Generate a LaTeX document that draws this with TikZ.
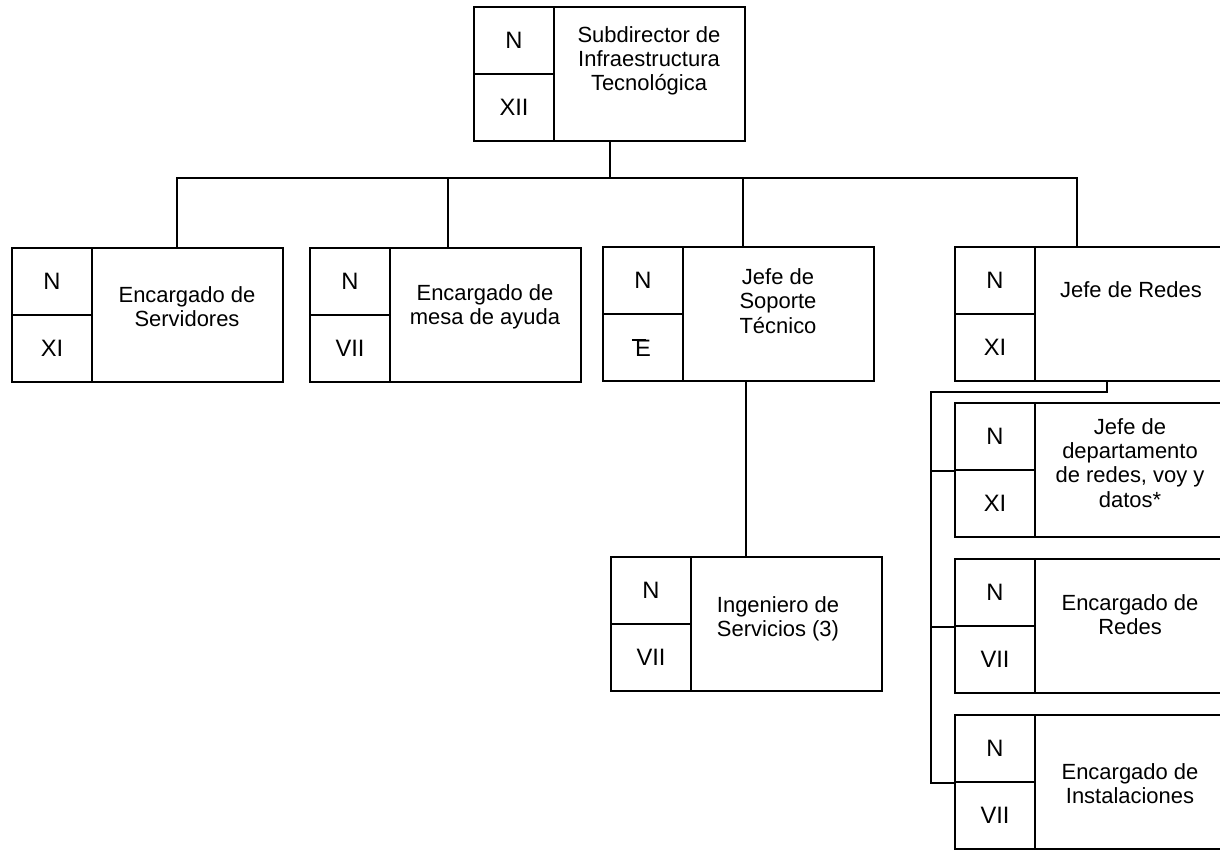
\documentclass[tikz,border=0pt]{standalone}
\usepackage{fontspec}
\setmainfont{Liberation Sans}
\begin{document}
\begin{tikzpicture}[x=0.02cm, y=-0.02cm, line width=0.9pt,
            nivel/.style={draw, rectangle, minimum width=1.6cm, minimum height=1.34cm, inner sep=0pt, font=\fontsize{13.5}{14}\selectfont},
            cargo/.style={draw, rectangle, minimum width=3.82cm, minimum height=2.68cm, inner sep=0pt},
            texto/.style={align=center, inner sep=0pt, font=\fontsize{12.5}{13.8}\selectfont}]

            \useasboundingbox (0,0) rectangle (1220,850);
            \clip (0,0) rectangle (1220,850);
            \fill[white] (0,0) rectangle (1220,850);

            % Subdirector
            \node[nivel] (sub-n) at (514,40.5) {N};
            \node[nivel] (sub-l) at (514,107.5) {XII};
            \node[cargo] (sub-t) at (649.5,74) {};
            \node[texto] (sub-x) at (649,61) {Subdirector de\\Infraestructura\\Tecnológica};

            % segundo nivel
            \node[nivel] (serv-n) at (52,281.5) {N};
            \node[nivel] (serv-l) at (52,348.5) {XI};
            \node[cargo] (serv-t) at (187.5,315) {};
            \node[texto] (serv-x) at (187,307) {Encargado de\\Servidores};

            \node[nivel] (mesa-n) at (350,281.5) {N};
            \node[nivel] (mesa-l) at (350,348.5) {VII};
            \node[cargo] (mesa-t) at (485.5,315) {};
            \node[texto] (mesa-x) at (485,307) {Encargado de\\mesa de ayuda};

            \node[nivel] (sop-n) at (643,280.5) {N};
            \node[nivel] (sop-l) at (643,347.5) {\rlap{\hspace{-0.14em}\rule[0.64em]{0.62em}{0.08em}}E};
            \node[cargo] (sop-t) at (778.5,314) {};
            \node[texto] (sop-x) at (778,301) {Jefe de\\Soporte\\Técnico};

            \node[nivel] (redes-n) at (995,280.5) {N};
            \node[nivel] (redes-l) at (995,347.5) {XI};
            \node[cargo] (redes-t) at (1130.5,314) {};
            \node[texto] (redes-x) at (1131,290) {Jefe de Redes};

            % tercer nivel
            \node[nivel] (ing-n) at (651,590.5) {N};
            \node[nivel] (ing-l) at (651,657.5) {VII};
            \node[cargo] (ing-t) at (786.5,624) {};
            \node[texto] (ing-x) at (778,619) {Ingeniero de\\Servicios (3)};

            \node[nivel] (dep-n) at (995,436.5) {N};
            \node[nivel] (dep-l) at (995,503.5) {XI};
            \node[cargo] (dep-t) at (1130.5,470) {};
            \node[texto] (dep-x) at (1130,463) {Jefe de\\departamento\\de redes, voy y\\datos*};

            \node[nivel] (encr-n) at (995,592.5) {N};
            \node[nivel] (encr-l) at (995,659.5) {VII};
            \node[cargo] (encr-t) at (1130.5,626) {};
            \node[texto] (encr-x) at (1130,615) {Encargado de\\Redes};

            \node[nivel] (inst-n) at (995,748.5) {N};
            \node[nivel] (inst-l) at (995,815.5) {VII};
            \node[cargo] (inst-t) at (1130.5,782) {};
            \node[texto] (inst-x) at (1130,784) {Encargado de\\Instalaciones};

            % conexiones
            \coordinate (bus) at (610,178);
            \coordinate (codo) at (931,392);
            \coordinate (ing-in) at ([xshift=-0.81cm]ing-t.north);
            \coordinate (redes-out) at ([xshift=-0.47cm]redes-t.south);
            \draw (sub-t.south -| bus) -- (bus);
            \draw (bus) -| ([xshift=-0.21cm]serv-t.north);
            \draw (bus) -| ([xshift=-0.75cm]mesa-t.north);
            \draw (bus) -| ([xshift=-0.71cm]sop-t.north);
            \draw (bus) -| ([xshift=-1.07cm]redes-t.north);
            \draw (ing-in) -- (ing-in |- sop-t.south);
            \draw (redes-out) |- (codo) |- (inst-n.south west);
            \draw (codo) |- (dep-n.south west);
            \draw (codo) |- (encr-n.south west);
        \end{tikzpicture}
\end{document}
